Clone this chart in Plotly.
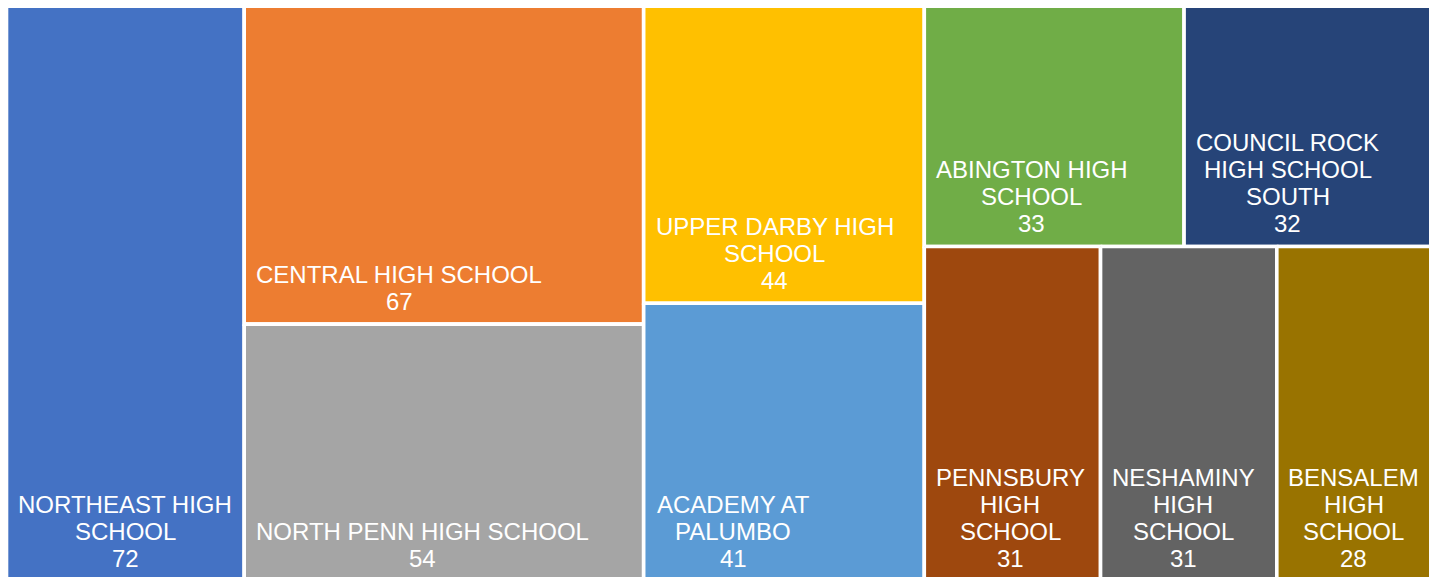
import plotly.graph_objects as go

# ---------------- data ----------------
schools = [
    "NORTHEAST HIGH SCHOOL", "CENTRAL HIGH SCHOOL", "NORTH PENN HIGH SCHOOL",
    "UPPER DARBY HIGH SCHOOL", "ACADEMY AT PALUMBO", "ABINGTON HIGH SCHOOL",
    "COUNCIL ROCK HIGH SCHOOL SOUTH", "PENNSBURY HIGH SCHOOL",
    "NESHAMINY HIGH SCHOOL", "BENSALEM HIGH SCHOOL",
]
label_lines = [
    ["NORTHEAST HIGH", "SCHOOL"], ["CENTRAL HIGH SCHOOL"], ["NORTH PENN HIGH SCHOOL"],
    ["UPPER DARBY HIGH", "SCHOOL"], ["ACADEMY AT", "PALUMBO"], ["ABINGTON HIGH", "SCHOOL"],
    ["COUNCIL ROCK", "HIGH SCHOOL", "SOUTH"], ["PENNSBURY", "HIGH", "SCHOOL"],
    ["NESHAMINY", "HIGH", "SCHOOL"], ["BENSALEM", "HIGH", "SCHOOL"],
]
values = [72, 67, 54, 44, 41, 33, 32, 31, 31, 28]
colors = ["#4472C4", "#ED7D31", "#A5A5A5", "#FFC000", "#5B9BD5",
          "#70AD47", "#264478", "#9E480E", "#636363", "#997300"]

# ---------------- layout constants ----------------
W_PX, H_PX = 1437, 577
PAGE_OFF = 8          # default page margin around the figure
AREA_X0, AREA_Y0 = 6.5, 4.25
AREA_W, AREA_H = 1429.5, 577.7
TARGET = 0.8          # preferred cell width/height ratio
FS = 24               # label font size
LINE = 27.0           # label line spacing
PADX = 11.5
BOTTOM = 23.0

ARIAL = {"A": 667, "B": 667, "C": 722, "D": 722, "E": 667, "F": 611, "G": 778,
         "H": 722, "I": 278, "J": 500, "K": 667, "L": 556, "M": 833, "N": 722,
         "O": 778, "P": 667, "Q": 778, "R": 722, "S": 667, "T": 611, "U": 722,
         "V": 667, "W": 944, "X": 667, "Y": 667, "Z": 611, " ": 278}


def text_width(s):
    return sum(ARIAL.get(c, 556) for c in s) / 1000.0 * FS


def squarify(vals, x, y, w, h):
    total = float(sum(vals))
    areas = [v * w * h / total for v in vals]
    rects = []
    i = 0

    def score(row, w, h):
        s = sum(row)
        worst = 0
        if w >= h:
            t = s / h
            for a in row:
                r = t / (a / t)
                worst = max(worst, r / TARGET, TARGET / r)
        else:
            t = s / w
            for a in row:
                r = (a / t) / t
                worst = max(worst, r / TARGET, TARGET / r)
        return worst

    while i < len(areas):
        row = [areas[i]]
        best = score(row, w, h)
        j = i + 1
        while j < len(areas):
            cand = row + [areas[j]]
            sc = score(cand, w, h)
            if sc <= best:
                row, best = cand, sc
                j += 1
            else:
                break
        s = sum(row)
        if w >= h:
            t = s / h
            yy = y
            for a in row:
                hh = a / t
                rects.append((x, yy, x + t, yy + hh))
                yy += hh
            x += t
            w -= t
        else:
            t = s / w
            xx = x
            for a in row:
                ww = a / t
                rects.append((xx, y, xx + ww, y + t))
                xx += ww
            y += t
            h -= t
        i = j
    return rects


rects = squarify(values, AREA_X0, AREA_Y0, AREA_W, AREA_H)

fig = go.Figure()
annotations = []
for k, (x0, y0, x1, y1) in enumerate(rects):
    fig.add_trace(go.Scatter(
        x=[x0, x1, x1, x0, x0], y=[y0, y0, y1, y1, y0],
        mode="lines", fill="toself", fillcolor=colors[k],
        line=dict(color="white", width=3.6),
        name=schools[k], hoverinfo="text",
        text=f"{schools[k]}: {values[k]}", showlegend=False,
    ))
    lines = label_lines[k] + [str(values[k])]
    n = len(lines)
    maxw = max(text_width(s) for s in lines)
    cx = x0 + PADX + maxw / 2
    for m, s in enumerate(lines):
        annotations.append(dict(
            x=cx, y=y1 - BOTTOM - (n - 1 - m) * LINE, text=s,
            xref="x", yref="y", xanchor="center", yanchor="middle",
            showarrow=False,
            font=dict(family="Arial, Liberation Sans, sans-serif", size=FS, color="white"),
        ))

fig.update_layout(
    width=W_PX, height=H_PX,
    margin=dict(l=0, r=0, t=0, b=0),
    paper_bgcolor="white", plot_bgcolor="white",
    xaxis=dict(range=[PAGE_OFF, PAGE_OFF + W_PX], visible=False, fixedrange=True),
    yaxis=dict(range=[PAGE_OFF + H_PX, PAGE_OFF], visible=False, fixedrange=True),
    annotations=annotations,
    showlegend=False,
)

fig.write_html("out.html")
